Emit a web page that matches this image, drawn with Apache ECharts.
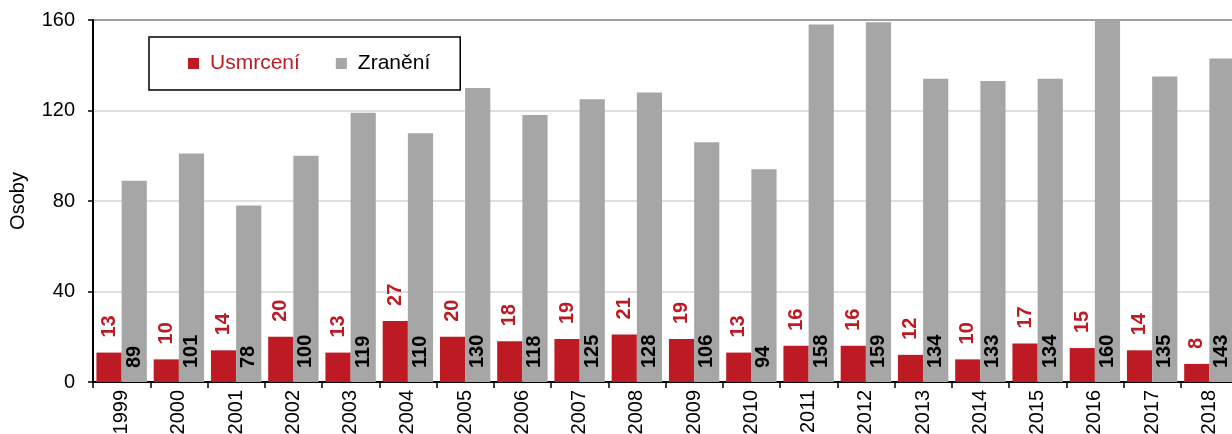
<!DOCTYPE html>
<html>
<head>
<meta charset="utf-8">
<script src="https://cdn.jsdelivr.net/npm/echarts@6/dist/echarts.min.js"></script>
<style>html,body{margin:0;padding:0;background:#fff}#c{width:1232px;height:434px}</style>
</head>
<body>
<div id="c"></div>
<script>
const categories = ['1999','2000','2001','2002','2003','2004','2005','2006','2007','2008','2009','2010','2011','2012','2013','2014','2015','2016','2017','2018'];
const usmrceni = [13,10,14,20,13,27,20,18,19,21,19,13,16,16,12,10,17,15,14,8];
const zraneni = [89,101,78,100,119,110,130,118,125,128,106,94,158,159,134,133,134,160,135,143];
const yTicks = [0,40,80,120,160];

const RED = '#be1a24';
const GRAY = '#a6a6a6';
const FONT = 'Liberation Sans, Arial, sans-serif';

const chart = echarts.init(document.getElementById('c'), null, {renderer:'canvas'});
chart.setOption({
  animation: false,
  textStyle: {fontFamily: FONT},
  grid: {left: 93, right: -6, top: 20, bottom: 52, show: true, borderColor: '#000', borderWidth: 2,
    containLabel: false, outerBoundsMode: 'none'},
  legend: {
    left: 149, top: 37,
    orient: 'horizontal',
    borderColor: '#000', borderWidth: 1.5,
    padding: [16, 30, 16, 39],
    itemWidth: 11, itemHeight: 11, itemGap: 36,
    icon: 'rect',
    textStyle: {fontSize: 21, fontFamily: FONT, padding: [0,0,0,6]},
    data: [
      {name: 'Usmrcení', textStyle: {color: RED}},
      {name: 'Zranění', textStyle: {color: '#000'}}
    ]
  },
  xAxis: {
    type: 'category',
    data: categories,
    axisLine: {lineStyle: {color: '#000', width: 2}},
    axisTick: {show: true, alignWithLabel: false, length: 6, lineStyle: {color: '#000', width: 1.5}},
    axisLabel: {rotate: 90, fontSize: 20, color: '#000', margin: 8, fontFamily: FONT}
  },
  yAxis: {
    type: 'value',
    min: 0, max: 160, interval: 40,
    name: 'Osoby', nameLocation: 'middle', nameGap: 65,
    nameTextStyle: {fontSize: 20, color: '#000', fontFamily: FONT},
    axisLine: {show: true, lineStyle: {color: '#000', width: 2}},
    axisTick: {show: true, length: 5, lineStyle: {color: '#000', width: 1.5}},
    axisLabel: {fontSize: 20, color: '#000', margin: 18, fontFamily: FONT,
      formatter: v => yTicks.includes(v) ? String(v) : ''},
    splitLine: {lineStyle: {color: '#d4d4d4', width: 1.5}}
  },
  series: [
    {
      name: 'Usmrcení', type: 'bar', data: usmrceni,
      itemStyle: {color: RED},
      barGap: '0%', barCategoryGap: '12%',
      label: {show: true, position: 'top', rotate: 90, align: 'left', verticalAlign: 'middle',
        distance: 15, color: RED, fontWeight: 'bold', fontSize: 20, fontFamily: FONT}
    },
    {
      name: 'Zranění', type: 'bar', data: zraneni,
      itemStyle: {color: GRAY},
      barGap: '0%', barCategoryGap: '12%',
      label: {show: true, position: 'insideBottom', rotate: 90, align: 'left', verticalAlign: 'middle',
        distance: 14, color: '#000', fontWeight: 'bold', fontSize: 20, fontFamily: FONT}
    }
  ]
});
</script>
</body>
</html>
